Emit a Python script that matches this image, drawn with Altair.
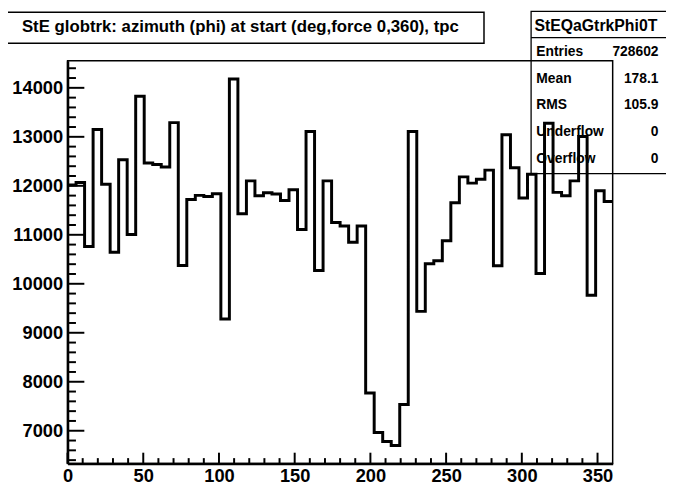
import altair as alt
import pandas as pd
import numpy as np

# ---- data (64 bins over 0..360 deg) ----
counts = [12015, 12067, 10760, 13150, 12030, 10645, 12530, 11007, 13827, 12465,
          12435, 12385, 13290, 10375, 11720, 11805, 11780, 11840, 9282, 14181,
          11430, 12101, 11799, 11860, 11833, 11698, 11920, 11108, 13108, 10269,
          12101, 11249, 11181, 10847, 11181, 7772, 6966, 6779, 6698, 7536,
          13108, 9437, 10410, 10470, 10879, 11652, 12182, 12055, 12135, 12320,
          10369, 13041, 12369, 11750, 12236, 10208, 13275, 11866, 11799, 12101,
          13007, 9765, 11900, 11680]
x_range = [0, 360]
y_range = [6330, 14555]
x_major = [0, 50, 100, 150, 200, 250, 300, 350]
x_minor = [10, 20, 30, 40, 60, 70, 80, 90, 110, 120, 130, 140, 160, 170, 180, 190,
           210, 220, 230, 240, 260, 270, 280, 290, 310, 320, 330, 340]
y_major = [7000, 8000, 9000, 10000, 11000, 12000, 13000, 14000]
y_minor = [v for v in range(6400, 14401, 200) if v % 1000 != 0]
title_text = "StE globtrk: azimuth (phi) at start (deg,force 0,360), tpc"
stats_name = "StEQaGtrkPhi0T"
stats_labels = ["Entries", "Mean", "RMS", "Underflow", "Overflow"]
stats_values = ["728602", "178.1", "105.9", "0", "0"]

W, H = 552, 408
FONT = "Liberation Sans"

edges = np.linspace(x_range[0], x_range[1], len(counts) + 1)
hist = pd.DataFrame({"phi": list(edges[:-1]) + [x_range[1]],
                     "n": counts + [counts[-1]]})

xs = alt.Scale(domain=x_range, nice=False, zero=False)
ys = alt.Scale(domain=y_range, nice=False, zero=False)
one = pd.DataFrame({"k": [0]})

axis_common = dict(title=None, ticks=False, grid=False, labelFont=FONT,
                   labelFontWeight="bold", labelFontSize=18.5, labelColor="black",
                   labelFlush=False, labelOverlap=False, labelBound=False,
                   domainColor="black", domainWidth=2.5, format="d")
x_axis = alt.Axis(values=x_major, labelPadding=3, **axis_common)
y_axis = alt.Axis(values=y_major, labelPadding=5, **axis_common)

hist_line = alt.Chart(hist).mark_line(
    interpolate="step-after", color="black", strokeWidth=3,
    strokeJoin="miter", strokeCap="butt"
).encode(
    x=alt.X("phi:Q", scale=xs, axis=x_axis),
    y=alt.Y("n:Q", scale=ys, axis=y_axis),
)

def xticks(vals, length):
    return alt.Chart(pd.DataFrame({"v": vals})).mark_rule(color="black", strokeWidth=2).encode(
        x=alt.X("v:Q", scale=xs, axis=x_axis), y=alt.value(H), y2=alt.value(H - length))

def yticks(vals, length):
    return alt.Chart(pd.DataFrame({"v": vals})).mark_rule(color="black", strokeWidth=2).encode(
        y=alt.Y("v:Q", scale=ys, axis=y_axis), x=alt.value(0), x2=alt.value(length))

# title pave
title_box = alt.Chart(one).mark_rect(fill="white", stroke="black", strokeWidth=1.5).encode(
    x=alt.value(-62.3), x2=alt.value(421.7), y=alt.value(-49), y2=alt.value(-17.6))
title_txt = alt.Chart(pd.DataFrame({"t": [title_text]})).mark_text(
    font=FONT, fontWeight="bold", fontSize=17, color="black", align="center",
    baseline="alphabetic").encode(x=alt.value(175), y=alt.value(-29), text="t:N")

# stats box
stats_box = alt.Chart(one).mark_rect(fillOpacity=0, stroke="black", strokeWidth=1.3).encode(
    x=alt.value(469.4), x2=alt.value(612), y=alt.value(-50), y2=alt.value(114.4))
stats_sep = alt.Chart(one).mark_rule(color="black", strokeWidth=1.3).encode(
    x=alt.value(469.4), x2=alt.value(612), y=alt.value(-23.3))
stats_title = alt.Chart(pd.DataFrame({"t": [stats_name]})).mark_text(
    font=FONT, fontWeight="bold", fontSize=16, color="black", align="center",
    baseline="alphabetic").encode(x=alt.value(535), y=alt.value(-30), text="t:N")

stats_layers = []
for i, (lab, val) in enumerate(zip(stats_labels, stats_values)):
    yy = -5 + 27.2 * i
    stats_layers.append(alt.Chart(pd.DataFrame({"t": [lab]})).mark_text(
        font=FONT, fontWeight="bold", fontSize=14, color="black", align="left",
        baseline="alphabetic").encode(x=alt.value(474.7), y=alt.value(yy), text="t:N"))
    stats_layers.append(alt.Chart(pd.DataFrame({"t": [val]})).mark_text(
        font=FONT, fontWeight="bold", fontSize=14, color="black", align="right",
        baseline="alphabetic").encode(x=alt.value(598.4), y=alt.value(yy), text="t:N"))

chart = alt.layer(
    hist_line,
    xticks(x_major, 11), xticks(x_minor, 5.5), yticks(y_major, 17), yticks(y_minor, 8.5),
    title_box, title_txt, stats_box, stats_sep, stats_title, *stats_layers,
).properties(
    width=W, height=H, autosize="none",
    padding={"left": 60.3, "top": 50.3, "right": 54, "bottom": 19},
    background="white",
).configure_view(stroke="black", strokeWidth=1.5)

chart.save("out.html", embed_options={"renderer": "svg", "actions": False})
